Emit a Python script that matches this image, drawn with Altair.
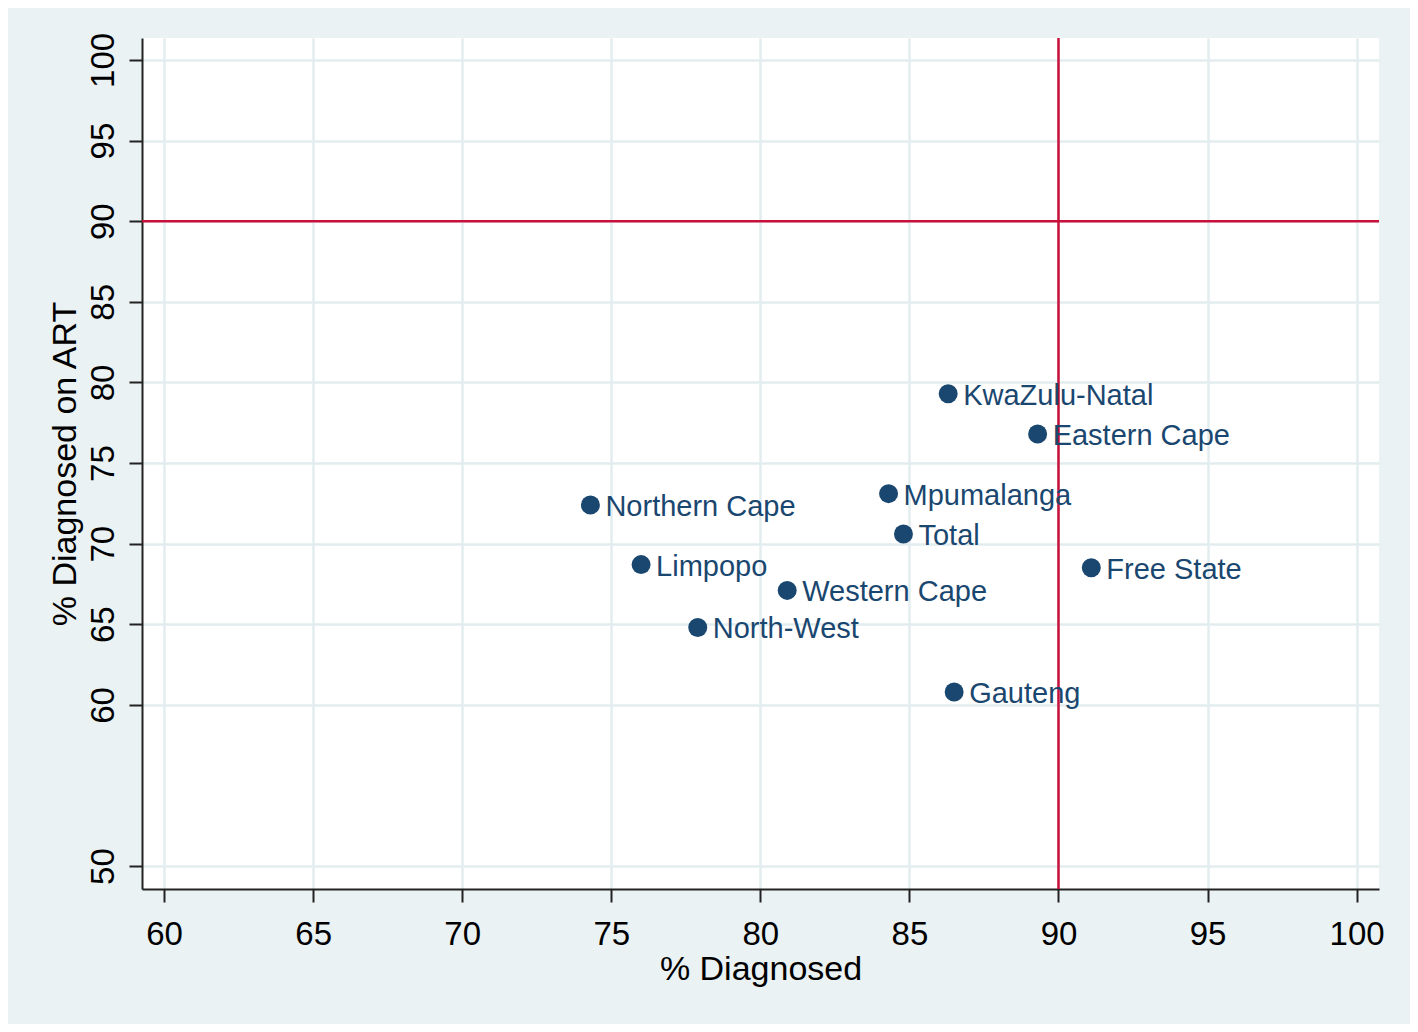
import altair as alt
import pandas as pd

provinces = ["KwaZulu-Natal", "Eastern Cape", "Mpumalanga", "Northern Cape", "Total",
             "Limpopo", "Free State", "Western Cape", "North-West", "Gauteng"]
pct_diagnosed = [86.3, 89.3, 84.3, 74.3, 84.8, 76.0, 91.1, 80.9, 77.9, 86.5]
pct_on_art = [79.3, 76.8, 73.1, 72.4, 70.6, 68.7, 68.5, 67.1, 64.8, 60.8]

x_ticks = [60, 65, 70, 75, 80, 85, 90, 95, 100]
y_ticks = [50, 60, 65, 70, 75, 80, 85, 90, 95, 100]
target = [90]

df = pd.DataFrame({"province": provinces, "diag": pct_diagnosed, "art": pct_on_art})
ref = pd.DataFrame({"v": target})

FONT = "Liberation Sans"
NAVY = "#1A476F"
RED = "#C8103A"

xscale = alt.Scale(domain=[59.26, 100.75], nice=False, zero=False)
yscale = alt.Scale(domain=[48.58, 101.36], nice=False, zero=False)

xaxis = alt.Axis(values=x_ticks, title="% Diagnosed", labelFontSize=33, titleFontSize=34,
                 labelFont=FONT, titleFont=FONT, labelColor="#000000", titleColor="#000000",
                 titleFontWeight="normal", tickSize=13, tickWidth=2, tickColor="#222222",
                 domainColor="#222222", domainWidth=2, labelBaseline="alphabetic",
                 labelPadding=42, titleBaseline="alphabetic", titleY=90,
                 grid=True, gridColor="#E3EDEF", gridWidth=2.5, labelFlush=False)
yaxis = alt.Axis(values=y_ticks, title="% Diagnosed on ART", labelFontSize=33, titleFontSize=34,
                 labelFont=FONT, titleFont=FONT, labelColor="#000000", titleColor="#000000",
                 titleFontWeight="normal", tickSize=13, tickWidth=2, tickColor="#222222",
                 domainColor="#222222", domainWidth=2, labelAngle=270, labelAlign="center",
                 labelBaseline="alphabetic", labelPadding=16, titleAngle=270,
                 titleBaseline="alphabetic", titleAlign="center", titleX=-67, titleY=425.5,
                 grid=True, gridColor="#E3EDEF", gridWidth=2.5, labelFlush=False)

base = alt.Chart(df)

points = base.mark_point(filled=True, size=360, opacity=1, color=NAVY).encode(
    x=alt.X("diag:Q", scale=xscale, axis=xaxis),
    y=alt.Y("art:Q", scale=yscale, axis=yaxis),
)

labels = base.mark_text(align="left", baseline="alphabetic", dx=15, dy=11,
                        fontSize=29, font=FONT, color=NAVY).encode(
    x=alt.X("diag:Q", scale=xscale),
    y=alt.Y("art:Q", scale=yscale),
    text="province:N",
)

vrule = alt.Chart(ref).mark_rule(color=RED, strokeWidth=2.5).encode(
    x=alt.X("v:Q", scale=xscale))
hrule = alt.Chart(ref).mark_rule(color=RED, strokeWidth=2.5).encode(
    y=alt.Y("v:Q", scale=yscale))

chart = alt.layer(vrule, hrule, points, labels).properties(
    width=1237, height=851,
    autosize=alt.AutoSizeParams(type="none"),
    padding={"left": 134, "top": 30, "right": 31, "bottom": 135},
    background="#EAF2F3",
).configure_view(fill="#FFFFFF", stroke=None)

chart.save("out.html", embed_options={"renderer": "svg", "actions": False})
